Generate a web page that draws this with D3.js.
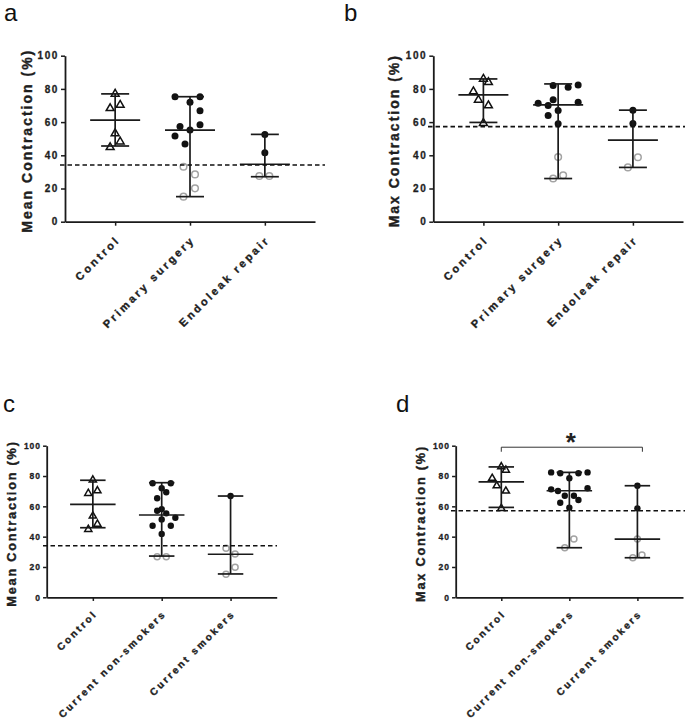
<!DOCTYPE html>
<html><head><meta charset="utf-8">
<script src="https://cdn.jsdelivr.net/npm/d3@7"></script>
<style>
body{margin:0;background:#fff}
svg{display:block}
text{font-family:"Liberation Sans",Arial,Helvetica,sans-serif}
</style>
</head><body>
<svg id="chart" width="685" height="723"></svg>
<script>
// ---------------- DATA ----------------
const groupsProcedure = ["Control", "Primary surgery", "Endoleak repair"];
const groupsSmoking = ["Control", "Current non-smokers", "Current smokers"];
const yTicks = [0, 20, 40, 60, 80, 100];
const titleMean = "Mean Contraction (%)";
const titleMax = "Max Contraction (%)";

// Panel a – mean contraction by procedure
const aCtrl = [77.0, 68.3, 70.3, 53.2, 44.8, 48.2];
const aCtrlJ = [0, -1, 1, 0, -1, 1];
const aPrimFill = [75.3, 75.3, 71.9, 66.9, 57.4, 58.4, 55.2, 51.6, 46.8];
const aPrimFillJ = [-3, 2, 0, 2, -2, 2, 0, -3, -1];
const aPrimOpen = [33.1, 28.5, 20.1, 15.1];
const aPrimOpenJ = [-1.3, 1, 1, -1.3];
const aEndoFill = [52.6, 41.6];
const aEndoFillJ = [0, 0];
const aEndoOpen = [27.5, 27.5];
const aEndoOpenJ = [-1.1, 0.9];
const aMedian = [61.2, 55.2, 34.6];
const aMin = [45.6, 15.1, 27.1];
const aMax = [77.0, 75.3, 52.6];
const aCut = 34.2;

// Panel b – max contraction by procedure
const bCtrl = [86.0, 84.0, 78.4, 73.4, 70.0, 59.4];
const bCtrlJ = [0, 1, -2, -1, 1, 0];
const bPrimFill = [82.0, 81.0, 82.4, 71.4, 70.0, 73.4, 72.0, 64.0, 67.0, 59.0];
const bPrimFillJ = [-1, 2, 4, -4, -2, -1, 4, -2, 0, 0];
const bPrimOpen = [39.0, 26.0, 28.0];
const bPrimOpenJ = [0, -1, 1];
const bEndoFill = [67.2, 59.2];
const bEndoFillJ = [0, 0];
const bEndoOpen = [38.8, 32.7];
const bEndoOpenJ = [1, -1];
const bMedian = [76.4, 70.4, 49.2];
const bMin = [59.8, 26.0, 32.7];
const bMax = [86.0, 83.0, 67.2];
const bCut = 57.3;

// Panel c – mean contraction by smoking
const cCtrl = [77.4, 68.6, 70.3, 53.6, 44.8, 48.3];
const cCtrlJ = [0, -1, 1, 0, -1, 1];
const cNonFill = [75.2, 75.2, 71.9, 69.3, 65.3, 58.2, 57.1, 55.4, 52.5, 51.4, 47.2, 47.2, 41.8];
const cNonFillJ = [-2, 2, 0, 1, -1, 0, -1, 1, 3, 0, -2, 2, 0];
const cNonOpen = [26.8, 26.8];
const cNonOpenJ = [-1, 1];
const cSmkFill = [66.8];
const cSmkFillJ = [0];
const cSmkOpen = [32.3, 28.6, 19.8, 15.2];
const cSmkOpenJ = [-1, 1, 1, -1];
const cMedian = [61.3, 54.3, 28.4];
const cMin = [45.9, 27.2, 15.4];
const cMax = [77.2, 75.6, 66.8];
const cCut = 34.0;

// Panel d – max contraction by smoking
const dCtrl = [86.1, 83.9, 78.5, 73.6, 70.1, 58.7];
const dCtrlJ = [0, 1, -2, -1, 1, 0];
const dNonFill = [82.4, 81.8, 81.8, 82.4, 78.5, 71.2, 70.1, 71.9, 67.0, 67.0, 64.2, 62.4, 59.1];
const dNonFillJ = [-4, -2, 2, 4, 0, -4, -2.5, 4, -1, 1, 2, -2, 0];
const dNonOpen = [32.7, 38.4];
const dNonOpenJ = [-1, 1];
const dSmkFill = [73.6, 58.7];
const dSmkFillJ = [0, 0];
const dSmkOpen = [38.4, 26.1, 27.9];
const dSmkOpenJ = [0, -1, 1];
const dMedian = [76.2, 70.3, 38.4];
const dMin = [59.3, 32.7, 26.1];
const dMax = [86.0, 82.4, 73.6];
const dCut = 57.1;
const dSignif = {from: "Control", to: "Current smokers", label: "*"};

// ---------------- BUILD ----------------
function pts(cats, sets) {
  const out = [];
  sets.forEach(([gi, kind, vals, jit]) => {
    vals.forEach((v, i) => out.push({cat: cats[gi], kind, v, j: jit[i]}));
  });
  return out;
}

const panels = [
  {letter: "a", lx: 4, ly: 21, cats: groupsProcedure, title: titleMean, tx: 27,
   x0: 65, x1: 315, yTop: 55.7, yBot: 221.7, s: 1, dash: [60, 325], cut: aCut,
   med: aMedian, mn: aMin, mx: aMax,
   points: pts(groupsProcedure, [[0, "tri", aCtrl, aCtrlJ], [1, "fill", aPrimFill, aPrimFillJ], [1, "open", aPrimOpen, aPrimOpenJ], [2, "fill", aEndoFill, aEndoFillJ], [2, "open", aEndoOpen, aEndoOpenJ]])},
  {letter: "b", lx: 344, ly: 21, cats: groupsProcedure, title: titleMax, tx: 394,
   x0: 433.3, x1: 683, yTop: 55.7, yBot: 221.7, s: 1, dash: [428, 685], cut: bCut,
   med: bMedian, mn: bMin, mx: bMax,
   points: pts(groupsProcedure, [[0, "tri", bCtrl, bCtrlJ], [1, "fill", bPrimFill, bPrimFillJ], [1, "open", bPrimOpen, bPrimOpenJ], [2, "fill", bEndoFill, bEndoFillJ], [2, "open", bEndoOpen, bEndoOpenJ]])},
  {letter: "c", lx: 3, ly: 412, cats: groupsSmoking, title: titleMean, tx: 11.5,
   x0: 46.7, x1: 276.7, yTop: 445.7, yBot: 597.3, s: 0.91, dash: [43, 277], cut: cCut,
   med: cMedian, mn: cMin, mx: cMax,
   points: pts(groupsSmoking, [[0, "tri", cCtrl, cCtrlJ], [1, "fill", cNonFill, cNonFillJ], [1, "open", cNonOpen, cNonOpenJ], [2, "fill", cSmkFill, cSmkFillJ], [2, "open", cSmkOpen, cSmkOpenJ]])},
  {letter: "d", lx: 396, ly: 412, cats: groupsSmoking, title: titleMax, tx: 421,
   x0: 455.7, x1: 683, yTop: 445.7, yBot: 597.3, s: 0.91, dash: [451, 685], cut: dCut,
   med: dMedian, mn: dMin, mx: dMax, sig: dSignif,
   points: pts(groupsSmoking, [[0, "tri", dCtrl, dCtrlJ], [1, "fill", dNonFill, dNonFillJ], [1, "open", dNonOpen, dNonOpenJ], [2, "fill", dSmkFill, dSmkFillJ], [2, "open", dSmkOpen, dSmkOpenJ]])}
];

const svg = d3.select("#chart");
const LINE = "#1a1a1a";
const TXT = "#1e1e1e";

function heavy(sel, w) {
  return sel.attr("stroke", TXT).attr("stroke-width", w).attr("paint-order", "stroke");
}

panels.forEach(p => {
  const s = p.s;
  const g = svg.append("g");
  const x = d3.scalePoint().domain(p.cats).range([p.x0, p.x1]).padding(0.67);
  const y = d3.scaleLinear().domain([0, 100]).range([p.yBot, p.yTop]);

  // panel letter
  g.append("text").attr("x", p.lx).attr("y", p.ly).attr("font-size", 24).attr("fill", "#111").text(p.letter);

  // y axis
  const ya = g.append("g").attr("transform", `translate(${p.x0},0)`)
    .call(d3.axisLeft(y).tickValues(yTicks).tickSize(4 * s).tickSizeOuter(0).tickPadding(2));
  ya.select(".domain").attr("stroke", LINE).attr("stroke-width", 1.8);
  ya.selectAll(".tick line").attr("stroke", LINE).attr("stroke-width", 1.5);
  heavy(ya.selectAll(".tick text").attr("font-size", s === 1 ? 10 : 8.5).attr("font-weight", "bold")
    .attr("letter-spacing", s === 1 ? 1.6 : 1.0).attr("fill", TXT)
    .attr("font-family", '"Liberation Sans",Arial,sans-serif'), 0.3);

  // x axis
  const xa = g.append("g").attr("transform", `translate(0,${p.yBot})`)
    .call(d3.axisBottom(x).tickSize(4 * s).tickSizeOuter(0).tickFormat(""));
  xa.select(".domain").attr("stroke", LINE).attr("stroke-width", 1.8);
  xa.selectAll(".tick line").attr("stroke", LINE).attr("stroke-width", 1.5);

  // x labels (rotated)
  heavy(g.selectAll(".xl").data(p.cats).join("text")
    .attr("transform", d => `translate(${x(d) + 3 * s},${p.yBot + 16 * s}) rotate(-45)`)
    .attr("text-anchor", "end").attr("dy", "0.35em")
    .attr("font-size", s === 1 ? 11 : 10).attr("font-weight", "bold")
    .attr("letter-spacing", s === 1 ? 2.7 : 2.4).attr("fill", TXT)
    .text(d => d), 0.35);

  // y title
  heavy(g.append("text")
    .attr("transform", `translate(${p.tx},${(p.yTop + p.yBot) / 2 + 2}) rotate(-90)`)
    .attr("text-anchor", "middle").attr("dy", "0.35em")
    .attr("font-size", s === 1 ? 14 : 12.7).attr("font-weight", "bold")
    .attr("letter-spacing", s === 1 ? 2 : 1.8).attr("fill", TXT)
    .text(p.title), 0.4);

  // points
  const unit = 5 * s;
  const px = d => x(d.cat) + d.j * unit;
  g.selectAll(".pt").data(p.points).join(enter => enter.append(d => {
      const ns = "http://www.w3.org/2000/svg";
      return document.createElementNS(ns, d.kind === "tri" ? "path" : "circle");
    }))
    .each(function(d) {
      const el = d3.select(this);
      if (d.kind === "tri") {
        el.attr("d", d3.symbol(d3.symbolTriangle, 27 * s * s)())
          .attr("transform", `translate(${px(d)},${y(d.v)})`)
          .attr("fill", "none").attr("stroke", "#111").attr("stroke-width", 1.5);
      } else if (d.kind === "fill") {
        el.attr("cx", px(d)).attr("cy", y(d.v)).attr("r", 3.5 * s).attr("fill", "#111");
      } else {
        el.attr("cx", px(d)).attr("cy", y(d.v)).attr("r", 3.3 * s)
          .attr("fill", "none").attr("stroke", "#a3a3a3").attr("stroke-width", 1.5);
      }
    });

  // median and range bars
  p.cats.forEach((c, i) => {
    const cx = x(c);
    const cap = 14 * s, half = 25 * s;
    g.append("line").attr("x1", cx).attr("x2", cx).attr("y1", y(p.mn[i])).attr("y2", y(p.mx[i]))
      .attr("stroke", LINE).attr("stroke-width", 1.7);
    [p.mn[i], p.mx[i]].forEach(v => g.append("line")
      .attr("x1", cx - cap).attr("x2", cx + cap).attr("y1", y(v)).attr("y2", y(v))
      .attr("stroke", LINE).attr("stroke-width", 1.7));
    g.append("line").attr("x1", cx - half).attr("x2", cx + half)
      .attr("y1", y(p.med[i])).attr("y2", y(p.med[i]))
      .attr("stroke", LINE).attr("stroke-width", 1.7);
  });

  // cutoff dashed line
  g.append("line").attr("x1", p.dash[0]).attr("x2", p.dash[1])
    .attr("y1", y(p.cut)).attr("y2", y(p.cut))
    .attr("stroke", "#111").attr("stroke-width", 1.6).attr("stroke-dasharray", "4.5,3");

  // significance bracket
  if (p.sig) {
    const xa1 = x(p.sig.from), xa2 = x(p.sig.to) + 5;
    const yb = y(99), yt = y(96);
    g.append("path").attr("d", `M${xa1},${yt}V${yb}H${xa2}V${yt}`)
      .attr("fill", "none").attr("stroke", "#333").attr("stroke-width", 1);
    g.append("text").attr("x", (xa1 + xa2) / 2 - 1).attr("y", yb + 4)
      .attr("text-anchor", "middle").attr("font-size", 26).attr("font-weight", "bold")
      .attr("fill", "#222").text(p.sig.label);
  }
});
</script>
</body></html>
